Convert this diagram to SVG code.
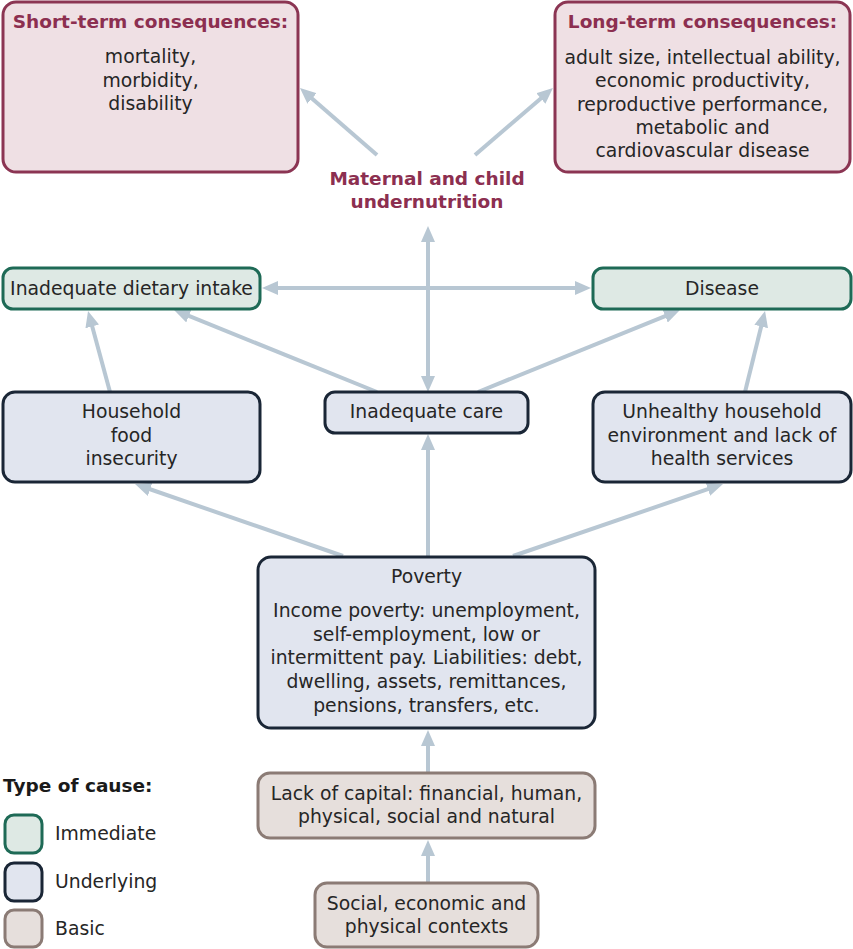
<svg xmlns="http://www.w3.org/2000/svg" width="853" height="949" viewBox="0 0 853 949">
<defs>
<marker id="ah" markerUnits="userSpaceOnUse" markerWidth="16" markerHeight="14" viewBox="0 0 16 14" refX="10" refY="7" orient="auto-start-reverse">
<path d="M0,0 L16,7 L0,14 z" fill="#b8c7d3"/>
</marker>
<style>
text{font-family:"DejaVu Sans","Verdana",sans-serif;font-size:18.8px;fill:#262626;text-anchor:middle}
.t{font-weight:bold;fill:#8c2f50;font-size:18.5px}
.lg{text-anchor:start}
.lgt{text-anchor:start;font-weight:bold;fill:#1a1a1a;font-size:18.5px}
.cons{fill:#efe0e4;stroke:#8b3553;stroke-width:3}
.imm{fill:#dee9e4;stroke:#1e6a56;stroke-width:3}
.und{fill:#e1e5ef;stroke:#1a2636;stroke-width:3}
.bas{fill:#e6dfdc;stroke:#8b7b75;stroke-width:3}
.c line{stroke:#b8c7d3;stroke-width:4;marker-end:url(#ah)}
.c line.d{marker-start:url(#ah)}
</style>
</defs>
<rect width="853" height="949" fill="#ffffff"/>
<g class="c" id="connectors">
<line x1="377" y1="155" x2="304.5" y2="91.9"/>
<line x1="475" y1="155" x2="548.4" y2="91.9"/>
<line class="d" x1="428" y1="232" x2="428" y2="386"/>
<line class="d" x1="268" y1="288" x2="585" y2="288"/>
<line x1="110" y1="392" x2="89.6" y2="316.8"/>
<line x1="377" y1="392" x2="179.6" y2="312.2"/>
<line x1="478" y1="392" x2="674.4" y2="312.3"/>
<line x1="745" y1="392" x2="763.6" y2="316.8"/>
<line x1="343" y1="556" x2="140.7" y2="486"/>
<line x1="513" y1="556" x2="717.3" y2="485.9"/>
<line x1="428" y1="556" x2="428" y2="440"/>
<line x1="428" y1="773" x2="428" y2="736"/>
<line x1="428" y1="883" x2="428" y2="846"/>
</g>
<g id="short-term">
<rect class="cons" x="3" y="2" width="295" height="170" rx="13"/>
<text class="t" x="150.5" y="28">Short-term consequences:</text>
<text x="150.5" y="63">mortality,</text>
<text x="150.5" y="86.5">morbidity,</text>
<text x="150.5" y="110">disability</text>
</g>
<g id="long-term">
<rect class="cons" x="555" y="2" width="295" height="170" rx="13"/>
<text class="t" x="702.5" y="28">Long-term consequences:</text>
<text x="702.5" y="64">adult size, intellectual ability,</text>
<text x="702.5" y="87.3">economic productivity,</text>
<text x="702.5" y="110.6">reproductive performance,</text>
<text x="702.5" y="133.9">metabolic and</text>
<text x="702.5" y="157.2">cardiovascular disease</text>
</g>
<g id="undernutrition">
<text class="t" x="427" y="185">Maternal and child</text>
<text class="t" x="427" y="208">undernutrition</text>
</g>
<g id="dietary">
<rect class="imm" x="3" y="268" width="257" height="41" rx="10"/>
<text x="131.5" y="295">Inadequate dietary intake</text>
</g>
<g id="disease">
<rect class="imm" x="593" y="268" width="258" height="41" rx="10"/>
<text x="722" y="295">Disease</text>
</g>
<g id="household">
<rect class="und" x="3" y="392" width="257" height="90" rx="12"/>
<text x="131.5" y="418">Household</text>
<text x="131.5" y="441.5">food</text>
<text x="131.5" y="465">insecurity</text>
</g>
<g id="care">
<rect class="und" x="325" y="392" width="203" height="41" rx="10"/>
<text x="426.5" y="418">Inadequate care</text>
</g>
<g id="unhealthy">
<rect class="und" x="593" y="392" width="258" height="90" rx="12"/>
<text x="722" y="418">Unhealthy household</text>
<text x="722" y="441.5">environment and lack of</text>
<text x="722" y="465">health services</text>
</g>
<g id="poverty">
<rect class="und" x="258" y="557" width="337" height="171" rx="13"/>
<text x="426.5" y="583">Poverty</text>
<text x="426.5" y="617">Income poverty: unemployment,</text>
<text x="426.5" y="640.7">self-employment, low or</text>
<text x="426.5" y="664.4">intermittent pay. Liabilities: debt,</text>
<text x="426.5" y="688.1">dwelling, assets, remittances,</text>
<text x="426.5" y="711.8">pensions, transfers, etc.</text>
</g>
<g id="capital">
<rect class="bas" x="258" y="773" width="337" height="65" rx="12"/>
<text x="426.5" y="800">Lack of capital: financial, human,</text>
<text x="426.5" y="823">physical, social and natural</text>
</g>
<g id="contexts">
<rect class="bas" x="315" y="883" width="223" height="64" rx="12"/>
<text x="426.5" y="910">Social, economic and</text>
<text x="426.5" y="933">physical contexts</text>
</g>
<g id="legend">
<text class="lgt" x="3" y="792">Type of cause:</text>
<rect class="imm" x="5" y="815" width="37" height="38" rx="9"/>
<text class="lg" x="55" y="840">Immediate</text>
<rect class="und" x="5" y="863" width="37" height="38" rx="9"/>
<text class="lg" x="55" y="888">Underlying</text>
<rect class="bas" x="5" y="910" width="37" height="37" rx="9"/>
<text class="lg" x="55" y="935">Basic</text>
</g>
</svg>
